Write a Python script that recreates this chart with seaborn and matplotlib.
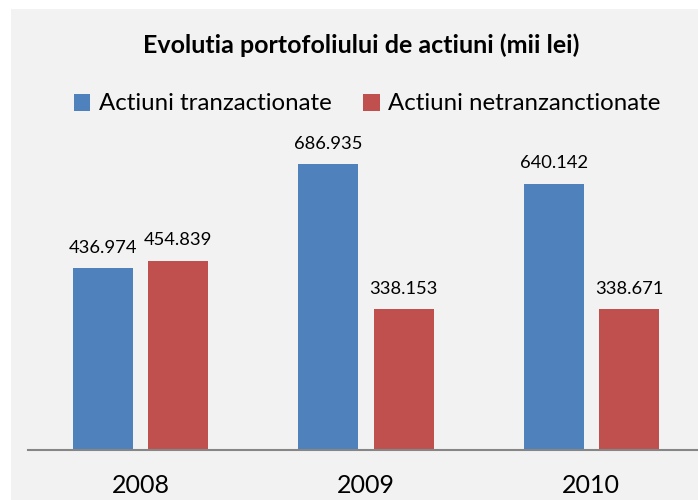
import pandas as pd
import seaborn as sns
import matplotlib.pyplot as plt
from matplotlib.patches import Rectangle

years = ["2008", "2009", "2010"]
series = ["Actiuni tranzactionate", "Actiuni netranzanctionate"]
traded = [436.974, 686.935, 640.142]
untraded = [454.839, 338.153, 338.671]
colors = ["#4F81BD", "#C0504D"]

df = pd.DataFrame({
    "an": years * 2,
    "serie": [series[0]] * 3 + [series[1]] * 3,
    "valoare": traded + untraded,
})

plt.rcParams["font.family"] = ["Lato", "DejaVu Sans"]

fig = plt.figure(figsize=(6.98, 5), dpi=100)
fig.patch.set_facecolor("white")
fig.patches.append(Rectangle((11 / 698, 0), 1, 491 / 500, transform=fig.transFigure,
                             facecolor="#F2F2F2", edgecolor="none", zorder=-10))

ax = fig.add_axes([28 / 698, 0.1, 676 / 698, 0.66])
ax.set_zorder(1)
ax.set_facecolor("none")
sns.barplot(data=df, x="an", y="valoare", hue="serie", palette=colors,
            width=0.667, gap=0.2, ax=ax, legend=False, saturation=1)

for cont in ax.containers:
    ax.bar_label(cont, fmt="%.3f", padding=9, fontsize=13.2)

ax.set_xlim(-0.5, 2.5)
ax.set_ylim(0, 330 / 0.4163)
ax.set_xlabel("")
ax.set_ylabel("")
ax.set_yticks([])
for s in ["top", "left", "right"]:
    ax.spines[s].set_visible(False)
ax.spines["bottom"].set_color("#868686")
ax.spines["bottom"].set_linewidth(1.5)
ax.tick_params(axis="x", length=0, labelsize=18, pad=17)

fig.text(361 / 698, 1 - 45 / 500, "Evolutia portofoliului de actiuni (mii lei)",
         ha="center", va="center", fontsize=18, fontweight="bold")

handles = [Rectangle((0, 0), 1, 1, facecolor=c) for c in colors]
fig.legend(handles, series, loc="center", bbox_to_anchor=(367 / 698, 1 - 104 / 500),
           ncol=2, frameon=False, fontsize=17.3, handlelength=0.7, handleheight=0.7,
           handletextpad=0.35, columnspacing=1.3)

fig.savefig("out.png", dpi=100)
